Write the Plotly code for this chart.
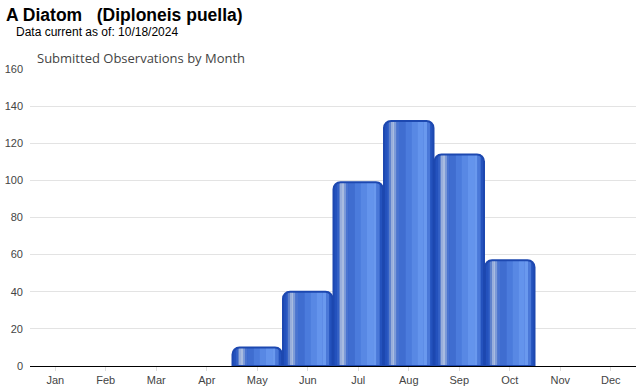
import plotly.graph_objects as go

months = ["Jan", "Feb", "Mar", "Apr", "May", "Jun", "Jul", "Aug", "Sep", "Oct", "Nov", "Dec"]
observations = [0, 0, 0, 0, 10, 40, 99, 132, 114, 57, 0, 0]
y_ticks = [0, 20, 40, 60, 80, 100, 120, 140, 160]

# months with no observations draw no bar at all
bar_values = [v if v > 0 else None for v in observations]

BAR_W = 0.98
EDGE = 0.07
# horizontal gradient profile: (start fraction, end fraction, colour) across the inner part of each bar
stripes = [
    (0.00, 0.05, "#3461c6"),
    (0.05, 0.09, "#5f82cc"),
    (0.09, 0.13, "#98aedb"),
    (0.13, 0.17, "#a9bce0"),
    (0.17, 0.21, "#7d9bd8"),
    (0.21, 0.27, "#4a74d0"),
    (0.27, 0.42, "#3f6dd0"),
    (0.42, 0.56, "#4b7bdc"),
    (0.56, 0.70, "#5888e4"),
    (0.70, 0.85, "#6494ec"),
    (0.85, 0.93, "#6a99ee"),
    (0.93, 1.00, "#4a78d8"),
]

fig = go.Figure()

# base bar (dark edges)
fig.add_trace(go.Bar(
    x=months, y=bar_values, width=BAR_W,
    marker=dict(color="#2452bd", line=dict(width=0), cornerradius=7),
    hoverinfo="skip", showlegend=False,
))

inner_left = -BAR_W / 2 + EDGE
inner_w = BAR_W - 2 * EDGE
for a, b, c in stripes:
    fig.add_trace(go.Bar(
        x=months, y=bar_values,
        offset=inner_left + a * inner_w, width=(b - a) * inner_w + 0.004,
        marker=dict(color=c, line=dict(width=0)),
        hoverinfo="skip", showlegend=False,
    ))

# outline on top
fig.add_trace(go.Bar(
    x=months, y=bar_values, width=BAR_W,
    marker=dict(color="rgba(0,0,0,0)", line=dict(width=2, color="#1d48b0"), cornerradius=7),
    showlegend=False,
))

fig.update_layout(
    width=640, height=390,
    barmode="overlay",
    plot_bgcolor="white", paper_bgcolor="white",
    margin=dict(l=30, r=4, t=69, b=22),
    font=dict(family="Arial, Liberation Sans, sans-serif", size=11, color="#444"),
    xaxis=dict(
        type="category", showgrid=False, showline=True, linecolor="black", linewidth=1,
        ticks="outside", ticklen=4, tickcolor="#ddd", tickfont=dict(size=11, color="#444"),
        range=[-0.5, 11.5], fixedrange=True,
    ),
    yaxis=dict(
        range=[0, 160], tickvals=y_ticks, showgrid=True, gridcolor="#e3e3e3", gridwidth=1,
        zeroline=False, showline=False, ticks="", tickfont=dict(size=11, color="#444"),
        ticklabelstandoff=6, fixedrange=True,
    ),
)

# position annotations in pixels via paper coords
pw, ph = 640 - 30 - 4, 390 - 69 - 22
def px(xp):
    return (xp - 30) / pw
def py(yp):
    return (390 - 22 - yp) / ph

fig.add_annotation(text="<b>A Diatom   (Diploneis puella)</b>", x=px(4), y=py(15), xref="paper", yref="paper",
                   xanchor="left", yanchor="middle", showarrow=False,
                   font=dict(family="Arial, Liberation Sans, sans-serif", size=17.5, color="black"))
fig.add_annotation(text="Data current as of: 10/18/2024", x=px(14), y=py(32), xref="paper", yref="paper",
                   xanchor="left", yanchor="middle", showarrow=False,
                   font=dict(family="Arial, Liberation Sans, sans-serif", size=12, color="black"))
fig.add_annotation(text="Submitted Observations by Month", x=px(35), y=py(58), xref="paper", yref="paper",
                   xanchor="left", yanchor="middle", showarrow=False,
                   font=dict(family="Open Sans, sans-serif", size=13, color="#444"))

fig.write_html("out.html", config={"displayModeBar": False})

# remove the default page margin so the figure sits at the window's top-left corner
with open("out.html", "r", encoding="utf-8") as f:
    html = f.read()
html = html.replace("<head>", "<head><style>html,body{margin:0;padding:0;overflow:hidden;}</style>", 1)
with open("out.html", "w", encoding="utf-8") as f:
    f.write(html)
